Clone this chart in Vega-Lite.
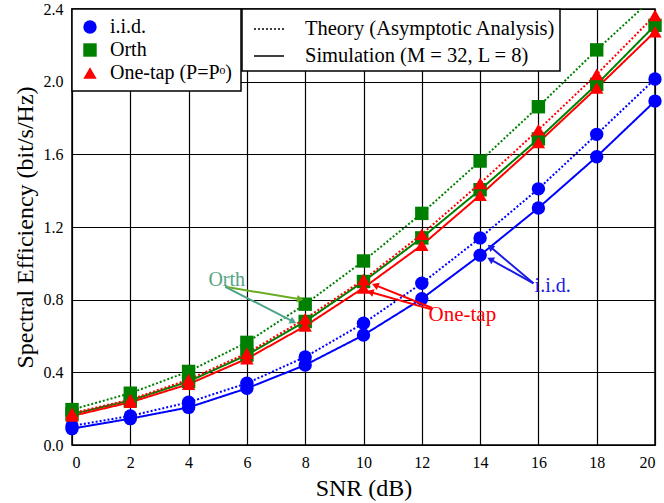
{
  "$schema": "https://vega.github.io/schema/vega-lite/v6.json",
  "width": 583,
  "height": 436,
  "autosize": "none",
  "padding": {"left": 72, "top": 9, "right": 9, "bottom": 58},
  "background": "white",
  "config": {
    "font": "Liberation Serif",
    "view": {"stroke": "black", "strokeWidth": 1.5},
    "axis": {
      "labelFont": "Liberation Serif", "labelFontSize": 16, "labelColor": "black",
      "titleFont": "Liberation Serif", "titleFontSize": 24, "titleFontWeight": "normal", "titleColor": "black",
      "grid": true, "gridColor": "black", "gridOpacity": 1, "gridWidth": 1.2,
      "domain": false, "ticks": false, "labelPadding": 9
    },
    "axisX": {"titlePadding": 6},
    "axisY": {"titlePadding": 6},
    "legend": {
      "labelFont": "Liberation Serif", "labelColor": "black", "labelFontSize": 20.5, "labelLimit": 500,
      "fillColor": "white", "strokeColor": "black", "strokeWidth": 1.5,
      "title": null, "cornerRadius": 0
    }
  },
  "datasets": {
    "curves": [
      {"scheme": "i.i.d.", "type": "Theory (Asymptotic Analysis)", "snr": 0, "se": 0.105},
      {"scheme": "i.i.d.", "type": "Theory (Asymptotic Analysis)", "snr": 2, "se": 0.16},
      {"scheme": "i.i.d.", "type": "Theory (Asymptotic Analysis)", "snr": 4, "se": 0.235},
      {"scheme": "i.i.d.", "type": "Theory (Asymptotic Analysis)", "snr": 6, "se": 0.34},
      {"scheme": "i.i.d.", "type": "Theory (Asymptotic Analysis)", "snr": 8, "se": 0.485},
      {"scheme": "i.i.d.", "type": "Theory (Asymptotic Analysis)", "snr": 10, "se": 0.67},
      {"scheme": "i.i.d.", "type": "Theory (Asymptotic Analysis)", "snr": 12, "se": 0.89},
      {"scheme": "i.i.d.", "type": "Theory (Asymptotic Analysis)", "snr": 14, "se": 1.14},
      {"scheme": "i.i.d.", "type": "Theory (Asymptotic Analysis)", "snr": 16, "se": 1.41},
      {"scheme": "i.i.d.", "type": "Theory (Asymptotic Analysis)", "snr": 18, "se": 1.71},
      {"scheme": "i.i.d.", "type": "Theory (Asymptotic Analysis)", "snr": 20, "se": 2.015},
      {"scheme": "i.i.d.", "type": "Simulation (M = 32, L = 8)", "snr": 0, "se": 0.09},
      {"scheme": "i.i.d.", "type": "Simulation (M = 32, L = 8)", "snr": 2, "se": 0.145},
      {"scheme": "i.i.d.", "type": "Simulation (M = 32, L = 8)", "snr": 4, "se": 0.207},
      {"scheme": "i.i.d.", "type": "Simulation (M = 32, L = 8)", "snr": 6, "se": 0.312},
      {"scheme": "i.i.d.", "type": "Simulation (M = 32, L = 8)", "snr": 8, "se": 0.44},
      {"scheme": "i.i.d.", "type": "Simulation (M = 32, L = 8)", "snr": 10, "se": 0.605},
      {"scheme": "i.i.d.", "type": "Simulation (M = 32, L = 8)", "snr": 12, "se": 0.805},
      {"scheme": "i.i.d.", "type": "Simulation (M = 32, L = 8)", "snr": 14, "se": 1.045},
      {"scheme": "i.i.d.", "type": "Simulation (M = 32, L = 8)", "snr": 16, "se": 1.305},
      {"scheme": "i.i.d.", "type": "Simulation (M = 32, L = 8)", "snr": 18, "se": 1.587},
      {"scheme": "i.i.d.", "type": "Simulation (M = 32, L = 8)", "snr": 20, "se": 1.893},
      {"scheme": "Orth", "type": "Theory (Asymptotic Analysis)", "snr": 0, "se": 0.195},
      {"scheme": "Orth", "type": "Theory (Asymptotic Analysis)", "snr": 2, "se": 0.285},
      {"scheme": "Orth", "type": "Theory (Asymptotic Analysis)", "snr": 4, "se": 0.405},
      {"scheme": "Orth", "type": "Theory (Asymptotic Analysis)", "snr": 6, "se": 0.565},
      {"scheme": "Orth", "type": "Theory (Asymptotic Analysis)", "snr": 8, "se": 0.775},
      {"scheme": "Orth", "type": "Theory (Asymptotic Analysis)", "snr": 10, "se": 1.013},
      {"scheme": "Orth", "type": "Theory (Asymptotic Analysis)", "snr": 12, "se": 1.275},
      {"scheme": "Orth", "type": "Theory (Asymptotic Analysis)", "snr": 14, "se": 1.563},
      {"scheme": "Orth", "type": "Theory (Asymptotic Analysis)", "snr": 16, "se": 1.862},
      {"scheme": "Orth", "type": "Theory (Asymptotic Analysis)", "snr": 18, "se": 2.175},
      {"scheme": "Orth", "type": "Theory (Asymptotic Analysis)", "snr": 20, "se": 2.47},
      {"scheme": "Orth", "type": "Simulation (M = 32, L = 8)", "snr": 0, "se": 0.17},
      {"scheme": "Orth", "type": "Simulation (M = 32, L = 8)", "snr": 2, "se": 0.245},
      {"scheme": "Orth", "type": "Simulation (M = 32, L = 8)", "snr": 4, "se": 0.35},
      {"scheme": "Orth", "type": "Simulation (M = 32, L = 8)", "snr": 6, "se": 0.495},
      {"scheme": "Orth", "type": "Simulation (M = 32, L = 8)", "snr": 8, "se": 0.68},
      {"scheme": "Orth", "type": "Simulation (M = 32, L = 8)", "snr": 10, "se": 0.9},
      {"scheme": "Orth", "type": "Simulation (M = 32, L = 8)", "snr": 12, "se": 1.14},
      {"scheme": "Orth", "type": "Simulation (M = 32, L = 8)", "snr": 14, "se": 1.405},
      {"scheme": "Orth", "type": "Simulation (M = 32, L = 8)", "snr": 16, "se": 1.685},
      {"scheme": "Orth", "type": "Simulation (M = 32, L = 8)", "snr": 18, "se": 1.985},
      {"scheme": "Orth", "type": "Simulation (M = 32, L = 8)", "snr": 20, "se": 2.31},
      {"scheme": "One-tap (P=Pᵒ)", "type": "Theory (Asymptotic Analysis)", "snr": 0, "se": 0.175},
      {"scheme": "One-tap (P=Pᵒ)", "type": "Theory (Asymptotic Analysis)", "snr": 2, "se": 0.25},
      {"scheme": "One-tap (P=Pᵒ)", "type": "Theory (Asymptotic Analysis)", "snr": 4, "se": 0.36},
      {"scheme": "One-tap (P=Pᵒ)", "type": "Theory (Asymptotic Analysis)", "snr": 6, "se": 0.505},
      {"scheme": "One-tap (P=Pᵒ)", "type": "Theory (Asymptotic Analysis)", "snr": 8, "se": 0.695},
      {"scheme": "One-tap (P=Pᵒ)", "type": "Theory (Asymptotic Analysis)", "snr": 10, "se": 0.91},
      {"scheme": "One-tap (P=Pᵒ)", "type": "Theory (Asymptotic Analysis)", "snr": 12, "se": 1.16},
      {"scheme": "One-tap (P=Pᵒ)", "type": "Theory (Asymptotic Analysis)", "snr": 14, "se": 1.44},
      {"scheme": "One-tap (P=Pᵒ)", "type": "Theory (Asymptotic Analysis)", "snr": 16, "se": 1.735},
      {"scheme": "One-tap (P=Pᵒ)", "type": "Theory (Asymptotic Analysis)", "snr": 18, "se": 2.04},
      {"scheme": "One-tap (P=Pᵒ)", "type": "Theory (Asymptotic Analysis)", "snr": 20, "se": 2.365},
      {"scheme": "One-tap (P=Pᵒ)", "type": "Simulation (M = 32, L = 8)", "snr": 0, "se": 0.16},
      {"scheme": "One-tap (P=Pᵒ)", "type": "Simulation (M = 32, L = 8)", "snr": 2, "se": 0.235},
      {"scheme": "One-tap (P=Pᵒ)", "type": "Simulation (M = 32, L = 8)", "snr": 4, "se": 0.335},
      {"scheme": "One-tap (P=Pᵒ)", "type": "Simulation (M = 32, L = 8)", "snr": 6, "se": 0.475},
      {"scheme": "One-tap (P=Pᵒ)", "type": "Simulation (M = 32, L = 8)", "snr": 8, "se": 0.655},
      {"scheme": "One-tap (P=Pᵒ)", "type": "Simulation (M = 32, L = 8)", "snr": 10, "se": 0.865},
      {"scheme": "One-tap (P=Pᵒ)", "type": "Simulation (M = 32, L = 8)", "snr": 12, "se": 1.1},
      {"scheme": "One-tap (P=Pᵒ)", "type": "Simulation (M = 32, L = 8)", "snr": 14, "se": 1.375},
      {"scheme": "One-tap (P=Pᵒ)", "type": "Simulation (M = 32, L = 8)", "snr": 16, "se": 1.665},
      {"scheme": "One-tap (P=Pᵒ)", "type": "Simulation (M = 32, L = 8)", "snr": 18, "se": 1.965},
      {"scheme": "One-tap (P=Pᵒ)", "type": "Simulation (M = 32, L = 8)", "snr": 20, "se": 2.275}
    ]
  },
  "encoding": {
    "x": {"field": "snr", "type": "quantitative", "scale": {"domain": [0, 20], "nice": false},
          "axis": {"title": "SNR (dB)", "values": [0, 2, 4, 6, 8, 10, 12, 14, 16, 18, 20]}},
    "y": {"field": "se", "type": "quantitative", "scale": {"domain": [0, 2.4], "nice": false},
          "axis": {"title": "Spectral Efficiency (bit/s/Hz)", "values": [0, 0.4, 0.8, 1.2, 1.6, 2.0, 2.4], "format": ".1f"}}
  },
  "layer": [
    {
      "data": {"name": "curves"},
      "transform": [{"filter": "datum.scheme === 'i.i.d.'"}],
      "mark": {"type": "line", "strokeWidth": 2, "clip": true, "color": "#0000ff"},
      "encoding": {
        "strokeDash": {"field": "type", "type": "nominal",
                       "scale": {"domain": ["Theory (Asymptotic Analysis)", "Simulation (M = 32, L = 8)"], "range": [[2, 2], [1, 0]]},
                       "legend": {"orient": "none", "legendX": 170, "legendY": 0, "symbolType": "stroke", "symbolSize": 900,
                                  "symbolStrokeColor": "black", "symbolStrokeWidth": 1.5, "padding": 4, "rowPadding": -9,
                                  "symbolOffset": 7, "labelOffset": 20, "labelFontSize": 20.5, "labelExpr": "datum.label + '  '"}}
      }
    },
    {
      "data": {"name": "curves"},
      "transform": [{"filter": "datum.scheme === 'Orth'"}],
      "mark": {"type": "line", "strokeWidth": 2, "clip": true, "color": "#008000"},
      "encoding": {
        "strokeDash": {"field": "type", "type": "nominal",
                       "legend": {"orient": "none", "legendX": 170, "legendY": 0, "symbolType": "stroke", "symbolSize": 900,
                                  "symbolStrokeColor": "black", "symbolStrokeWidth": 1.5, "padding": 4, "rowPadding": -9,
                                  "symbolOffset": 7, "labelOffset": 20, "labelFontSize": 20.5, "labelExpr": "datum.label + '  '"}}
      }
    },
    {
      "data": {"name": "curves"},
      "transform": [{"filter": "datum.scheme === 'One-tap (P=Pᵒ)'"}],
      "mark": {"type": "line", "strokeWidth": 2, "clip": true, "color": "#ff0000"},
      "encoding": {
        "strokeDash": {"field": "type", "type": "nominal",
                       "legend": {"orient": "none", "legendX": 170, "legendY": 0, "symbolType": "stroke", "symbolSize": 900,
                                  "symbolStrokeColor": "black", "symbolStrokeWidth": 1.5, "padding": 4, "rowPadding": -9,
                                  "symbolOffset": 7, "labelOffset": 20, "labelFontSize": 20.5, "labelExpr": "datum.label + '  '"}}
      }
    },
    {
      "data": {"name": "curves"},
      "transform": [{"filter": "datum.se <= 2.4"}],
      "mark": {"type": "point", "filled": true, "size": 180, "opacity": 1},
      "encoding": {
        "color": {"field": "scheme", "type": "nominal",
                  "scale": {"domain": ["i.i.d.", "Orth", "One-tap (P=Pᵒ)"], "range": ["#0000ff", "#008000", "#ff0000"]},
                  "legend": {"orient": "none", "legendX": 0, "legendY": 0, "padding": 8, "rowPadding": 3,
                             "labelOffset": 10, "symbolSize": 180, "symbolOpacity": 1, "labelFontSize": 20}},
        "shape": {"field": "scheme", "type": "nominal",
                  "scale": {"domain": ["i.i.d.", "Orth", "One-tap (P=Pᵒ)"], "range": ["circle", "square", "triangle-up"]},
                  "legend": {"orient": "none", "legendX": 0, "legendY": 0, "padding": 8, "rowPadding": 3,
                             "labelOffset": 10, "symbolSize": 180, "symbolOpacity": 1, "labelFontSize": 20}}
      }
    },
    {
      "data": {"values": [{"snr": 5.26, "se": 0.871, "x2": 7.83, "y2": 0.802}]},
      "mark": {"type": "rule", "color": "#6aab22", "strokeWidth": 2},
      "encoding": {"x2": {"field": "x2"}, "y2": {"field": "y2"}}
    },
    {
      "data": {"values": [{"snr": 7.83, "se": 0.802}]},
      "mark": {"type": "point", "shape": "triangle-up", "angle": 99.5, "filled": true, "size": 60, "color": "#6aab22", "opacity": 1}
    },
    {
      "data": {"values": [{"snr": 5.26, "se": 0.871, "x2": 7.59, "y2": 0.679}]},
      "mark": {"type": "rule", "color": "#4fa58a", "strokeWidth": 2},
      "encoding": {"x2": {"field": "x2"}, "y2": {"field": "y2"}}
    },
    {
      "data": {"values": [{"snr": 7.59, "se": 0.679}]},
      "mark": {"type": "point", "shape": "triangle-up", "angle": 117, "filled": true, "size": 60, "color": "#4fa58a", "opacity": 1}
    },
    {
      "data": {"values": [{"snr": 12.36, "se": 0.754, "x2": 10.40, "y2": 0.88}, {"snr": 12.36, "se": 0.745, "x2": 10.23, "y2": 0.842}]},
      "mark": {"type": "rule", "color": "#ff0000", "strokeWidth": 2},
      "encoding": {"x2": {"field": "x2"}, "y2": {"field": "y2"}}
    },
    {
      "data": {"values": [{"snr": 10.40, "se": 0.88}]},
      "mark": {"type": "point", "shape": "triangle-up", "angle": 292, "filled": true, "size": 60, "color": "#ff0000", "opacity": 1}
    },
    {
      "data": {"values": [{"snr": 10.23, "se": 0.842}]},
      "mark": {"type": "point", "shape": "triangle-up", "angle": 286, "filled": true, "size": 60, "color": "#ff0000", "opacity": 1}
    },
    {
      "data": {"values": [{"snr": 15.83, "se": 0.89, "x2": 14.35, "y2": 1.091}, {"snr": 15.83, "se": 0.89, "x2": 14.35, "y2": 1.022}]},
      "mark": {"type": "rule", "color": "#1a1ae6", "strokeWidth": 2},
      "encoding": {"x2": {"field": "x2"}, "y2": {"field": "y2"}}
    },
    {
      "data": {"values": [{"snr": 14.35, "se": 1.091}]},
      "mark": {"type": "point", "shape": "triangle-up", "angle": 310, "filled": true, "size": 60, "color": "#1a1ae6", "opacity": 1}
    },
    {
      "data": {"values": [{"snr": 14.35, "se": 1.022}]},
      "mark": {"type": "point", "shape": "triangle-up", "angle": 299, "filled": true, "size": 60, "color": "#1a1ae6", "opacity": 1}
    },
    {
      "data": {"values": [{"snr": 4.68, "se": 0.875, "label": "Orth"}]},
      "mark": {"type": "text", "align": "left", "baseline": "alphabetic", "fontSize": 20, "color": "#55a485", "font": "Liberation Serif"},
      "encoding": {"text": {"field": "label"}}
    },
    {
      "data": {"values": [{"snr": 12.23, "se": 0.684, "label": "One-tap"}]},
      "mark": {"type": "text", "align": "left", "baseline": "alphabetic", "fontSize": 21, "color": "#ff0000", "font": "Liberation Serif"},
      "encoding": {"text": {"field": "label"}}
    },
    {
      "data": {"values": [{"snr": 15.87, "se": 0.844, "label": "i.i.d."}]},
      "mark": {"type": "text", "align": "left", "baseline": "alphabetic", "fontSize": 20, "color": "#1a1ae6", "font": "Liberation Serif"},
      "encoding": {"text": {"field": "label"}}
    }
  ]
}
